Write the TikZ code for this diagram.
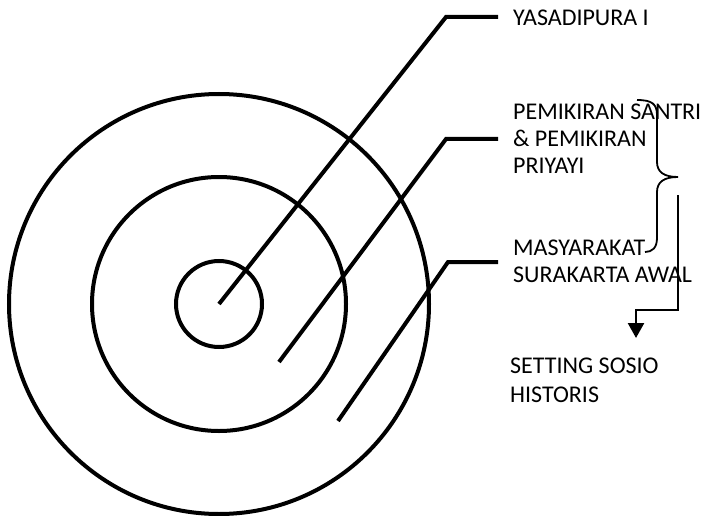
\documentclass[tikz,border=0pt]{standalone}
\usepackage{fontspec}
\setmainfont{Carlito}
\usepackage{xcolor}
\definecolor{InkBlack}{RGB}{0,0,0}
\usetikzlibrary{arrows.meta, calc}
\tikzset{
  % Concentric ring
  ring/.style={circle, draw=InkBlack, line width=4pt, inner sep=0pt},
  % Leader line from a ring to its label
  leader/.style={draw=InkBlack, line width=4pt, line join=miter},
  % Label text
  lbl/.style={anchor=north west, align=left, inner sep=0pt,
    font=\fontsize{24}{27}\selectfont},
  % Curly brace
  brc/.style={draw=InkBlack, line width=1.8pt},
  % Arrows
  arr/.style={-{Triangle[length=15pt,width=16pt]}, draw=InkBlack, line width=2.5pt},
}

\begin{document}
\begin{tikzpicture}[x=1pt,y=-1pt]
  \useasboundingbox (0,0) rectangle (704,516);
  % rings
  \node[ring, minimum size=420pt] (outer) at (219,304) {};
  \node[ring, minimum size=254pt] (middle) at (219,304) {};
  \node[ring, minimum size=86pt] (inner) at (219,304) {};

  % labels
  \node[lbl] (yasa) at (513,9.5) {YASADIPURA I};
  \node[lbl] (santri) at (513,103.5) {PEMIKIRAN SANTRI\\\& PEMIKIRAN\\PRIYAYI};
  \node[lbl] (masy) at (513,239.5) {MASYARAKAT\\SURAKARTA AWAL};
  \node[lbl] (setting) at (510,357.5) {SETTING SOSIO\\[2pt]HISTORIS};

  % leaders
  \coordinate (s2) at (279,362);
  \coordinate (s3) at (338,421);
  \coordinate (k1) at (446,17);
  \coordinate (k2) at (446,139);
  \coordinate (k3) at (448,262);
  \coordinate (e1) at (498,17);
  \coordinate (e2) at (498,139);
  \coordinate (e3) at (498,262);
  \draw[leader] (inner.center) -- (k1) -- (e1);
  \draw[leader] (s2) -- (k2) -- (e2);
  \draw[leader] (s3) -- (k3) -- (e3);

  % brace
  \coordinate (btop) at (637,100);
  \coordinate (btip) at (678,177);
  \coordinate (bbot) at (645,252);
  \draw[brc] (btop) .. controls (652,100) and (657,104) .. (657,115)
    -- (657,162) .. controls (657,172) and (664,177) .. (btip)
    .. controls (664,177) and (657,182) .. (657,192)
    -- (657,238) .. controls (657,248) and (652,252) .. (bbot);

  % arrow
  \coordinate (a0) at (678,195);
  \coordinate (a1) at (678,310);
  \coordinate (a2) at (636,310);
  \coordinate (a3) at (636,338);
  \draw[arr] (a0) -- (a1) -- (a2) -- (a3);
\end{tikzpicture}
\end{document}
